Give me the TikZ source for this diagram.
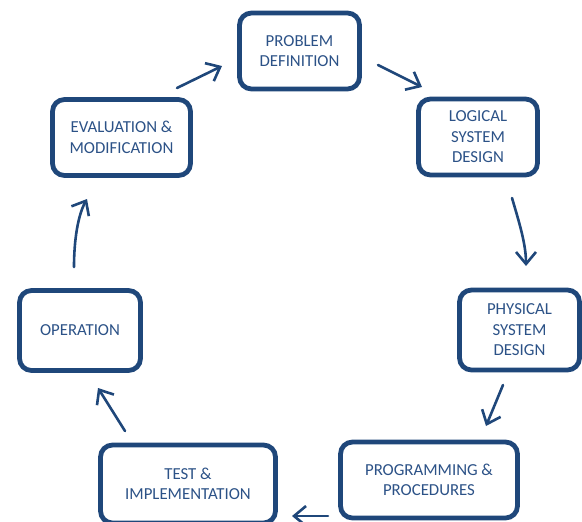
\documentclass[tikz,border=0pt]{standalone}
\usepackage{fontspec}
\setmainfont{Carlito}
\usetikzlibrary{arrows.meta}
\definecolor{boxblue}{RGB}{31,71,122}
\definecolor{txtblue}{RGB}{44,82,135}
\tikzset{
  stepbox/.style={draw=boxblue, line width=4.8pt, rounded corners=12pt, fill=white,
    text=txtblue, align=center, font=\fontsize{16.8}{20.5}\selectfont, inner sep=0pt},
  flow/.style={draw=boxblue, line width=2.6pt, line cap=round,
    -{Straight Barb[length=12pt,width=20pt,line width=2.6pt]}}
}
\begin{document}
\begin{tikzpicture}[x=1pt,y=-1pt]
\useasboundingbox (0,0) rectangle (582,522);
\clip (0,0) rectangle (582,522);
\node[stepbox, minimum width=120pt, minimum height=76pt] (prob) at (299.5,51) {PROBLEM\\DEFINITION};
\node[stepbox, minimum width=119pt, minimum height=76pt] (logic) at (478,137) {LOGICAL\\SYSTEM\\DESIGN};
\node[stepbox, minimum width=120pt, minimum height=80pt] (phys) at (519.5,330) {PHYSICAL\\SYSTEM\\DESIGN};
\node[stepbox, minimum width=177pt, minimum height=76pt] (prog) at (429,480) {PROGRAMMING \&\\PROCEDURES};
\node[stepbox, minimum width=175pt, minimum height=78pt] (test) at (188,484) {TEST \&\\IMPLEMENTATION};
\node[stepbox, minimum width=121pt, minimum height=80pt] (oper) at (80,330.5) {OPERATION};
\node[stepbox, minimum width=138pt, minimum height=76pt] (eval) at (121.5,137.5) {EVALUATION \&\\MODIFICATION};

\coordinate (a1s) at (177,88);  \coordinate (a1e) at (222,66);
\coordinate (a2s) at (378,65);  \coordinate (a2e) at (422,87);
\coordinate (a3s) at (512,198); \coordinate (a3e) at (526,266);
\coordinate (a4s) at (503,385); \coordinate (a4e) at (486,426);
\coordinate (a5s) at (328,516); \coordinate (a5e) at (292,516);
\coordinate (a6s) at (125,431); \coordinate (a6e) at (98,388);
\coordinate (a7s) at (74,267);  \coordinate (a7e) at (87,199);

\draw[flow] (a1s) -- (a1e);
\draw[flow] (a2s) -- (a2e);
\draw[flow] (a3s) .. controls (520,225) and (526,245) .. (a3e);
\draw[flow] (a4s) -- (a4e);
\draw[flow] (a5s) -- (a5e);
\draw[flow] (a6s) -- (a6e);
\draw[flow] (a7s) .. controls (74,240) and (78,215) .. (a7e);
\end{tikzpicture}
\end{document}
